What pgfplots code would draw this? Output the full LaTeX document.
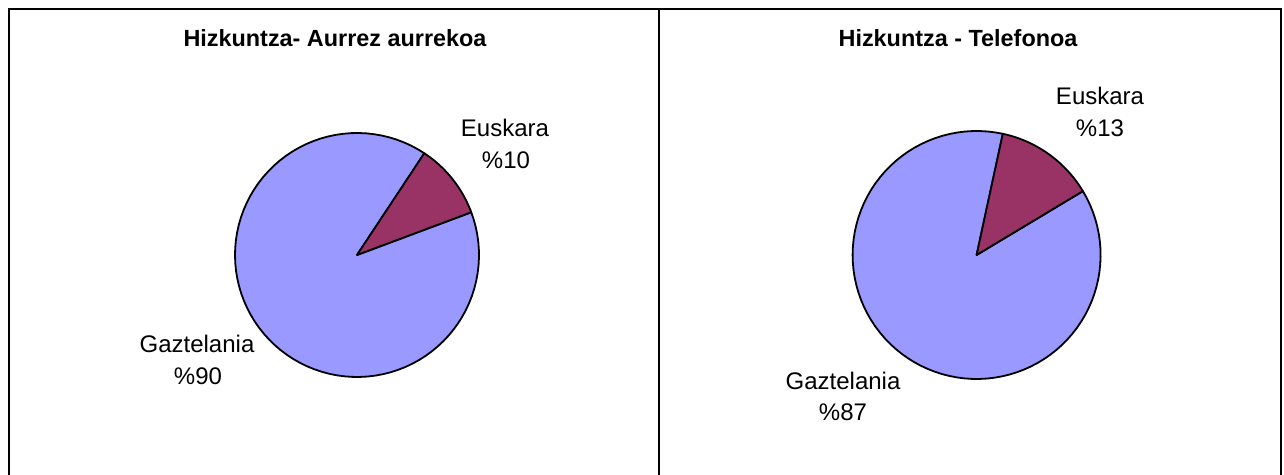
\documentclass[border=0pt]{standalone}
\usepackage{pgfplots}
\pgfplotsset{compat=1.18}
\usepackage{fontspec}
\setmainfont{Liberation Sans}

\definecolor{gaz}{HTML}{9999FF}
\definecolor{eus}{HTML}{993366}

% shares (percent) and start angle of the Euskara slice
\def\eusA{10}  \def\gazA{90}  \def\startA{20.5}
\def\eusB{13}  \def\gazB{87}  \def\startB{31}

\pgfplotsset{
  pie/.style={
    hide axis, scale only axis, axis equal image,
    width=122pt, height=122pt,
    xmin=-1, xmax=1, ymin=-1, ymax=1,
    clip=false, anchor=center,
  },
  slice/.style={draw=black, line width=0.9pt, samples=90, line join=round},
}

\begin{document}
\begin{tikzpicture}[x=0.5pt, y=0.5pt]
\path[use as bounding box] (0,0) rectangle (1284,475);
\tikzset{lbl/.style={anchor=base, font=\fontsize{12}{14}\selectfont},
         ttl/.style={anchor=base, font=\fontsize{11.7}{14}\selectfont\bfseries}}

% frames
\draw[line width=1.3pt] (9,0) -- (9,466) -- (1281,466) -- (1281,0);
\draw[line width=1.3pt] (659,0) -- (659,466);

% left pie
\pgfmathsetmacro\aEnd{\startA+3.6*\eusA}
\pgfmathsetmacro\aFull{\aEnd+3.6*\gazA}
\begin{axis}[pie, at={(178.5pt,110pt)}]
\addplot[slice, fill=gaz, domain=\aEnd:\aFull] ({cos(x)},{sin(x)}) -- (0,0) -- cycle;
\addplot[slice, fill=eus, domain=\startA:\aEnd] ({cos(x)},{sin(x)}) -- (0,0) -- cycle;
\end{axis}

% right pie
\pgfmathsetmacro\bEnd{\startB+3.6*\eusB}
\pgfmathsetmacro\bFull{\bEnd+3.6*\gazB}
\begin{axis}[pie, at={(488.3pt,110pt)}, width=124pt, height=124pt]
\addplot[slice, fill=gaz, domain=\bEnd:\bFull] ({cos(x)},{sin(x)}) -- (0,0) -- cycle;
\addplot[slice, fill=eus, domain=\startB:\bEnd] ({cos(x)},{sin(x)}) -- (0,0) -- cycle;
\end{axis}

% titles
\node[ttl] at (335,428) {Hizkuntza- Aurrez aurrekoa};
\node[ttl] at (958,428) {Hizkuntza - Telefonoa};

% labels
\node[lbl] at (505,338) {Euskara};
\node[lbl] at (506,306) {\%\eusA};
\node[lbl] at (197,122) {Gaztelania};
\node[lbl] at (198,90) {\%\gazA};
\node[lbl] at (1100,370) {Euskara};
\node[lbl] at (1100,338) {\%\eusB};
\node[lbl] at (843,85) {Gaztelania};
\node[lbl] at (843,54) {\%\gazB};
\end{tikzpicture}
\end{document}
